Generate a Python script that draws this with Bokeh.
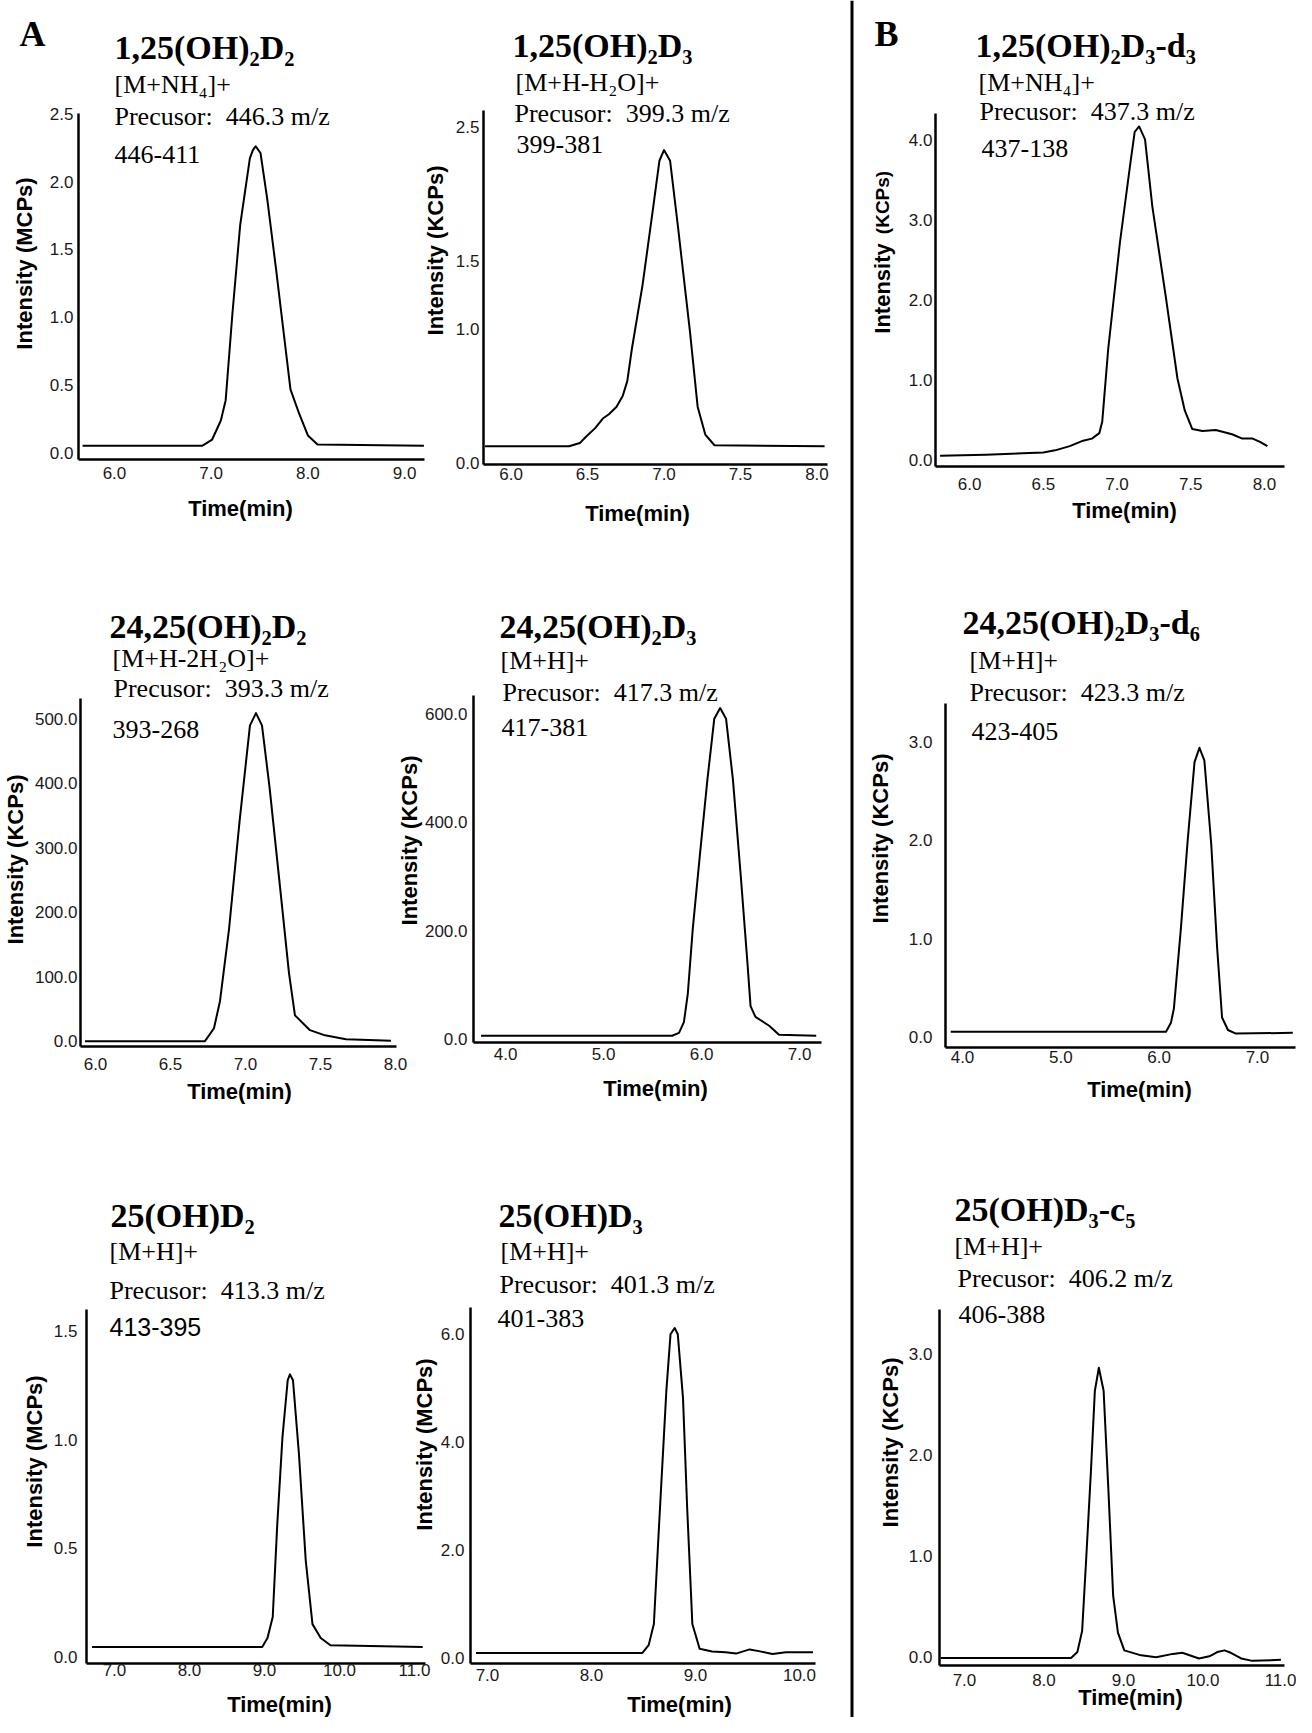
import math
from bokeh.plotting import figure
from bokeh.models import Range1d, FixedTicker, PrintfTickFormatter, Label, LinearAxis, Span
from bokeh.embed import file_html
from bokeh.resources import INLINE

# ---------------- data (time in min, intensity in axis units) ----------------
time_125D2 = [5.67, 6.91, 7.01, 7.10, 7.15, 7.22, 7.30, 7.40, 7.43, 7.46, 7.51, 7.58, 7.67, 7.82, 7.91, 8.00, 8.10, 9.20]
int_125D2 = [0.055, 0.055, 0.10, 0.24, 0.39, 1.03, 1.68, 2.17, 2.23, 2.26, 2.21, 1.87, 1.36, 0.47, 0.29, 0.13, 0.063, 0.055]
xt_125D2 = [6.0, 7.0, 8.0, 9.0]
yt_125D2 = [0.0, 0.5, 1.0, 1.5, 2.0, 2.5]

time_125D3 = [5.83, 6.38, 6.45, 6.49, 6.55, 6.60, 6.64, 6.69, 6.73, 6.76, 6.79, 6.86, 6.93, 6.97, 7.00, 7.04, 7.09, 7.17, 7.22, 7.27, 7.33, 8.05]
int_125D3 = [0.127, 0.127, 0.151, 0.198, 0.262, 0.333, 0.365, 0.421, 0.500, 0.611, 0.849, 1.325, 1.905, 2.246, 2.325, 2.246, 1.770, 0.976, 0.421, 0.214, 0.135, 0.127]
xt_125D3 = [6.0, 6.5, 7.0, 7.5, 8.0]
yt_125D3 = [0.0, 1.0, 1.5, 2.5]

time_125D3d3 = [5.80, 6.11, 6.50, 6.58, 6.68, 6.77, 6.83, 6.88, 6.90, 6.94, 7.02, 7.09, 7.12, 7.15, 7.19, 7.24, 7.33, 7.41, 7.46, 7.51, 7.58, 7.67, 7.78, 7.85, 7.92, 7.97, 8.02]
int_125D3d3 = [0.054, 0.067, 0.094, 0.121, 0.174, 0.242, 0.268, 0.336, 0.483, 1.383, 2.725, 3.705, 4.107, 4.174, 4.013, 3.168, 2.054, 1.020, 0.617, 0.389, 0.362, 0.376, 0.322, 0.268, 0.268, 0.228, 0.174]
xt_125D3d3 = [6.0, 6.5, 7.0, 7.5, 8.0]
yt_125D3d3 = [0.0, 1.0, 2.0, 3.0, 4.0]

time_2425D2 = [5.93, 6.73, 6.79, 6.83, 6.89, 6.96, 7.03, 7.07, 7.11, 7.16, 7.23, 7.29, 7.33, 7.43, 7.53, 7.67, 7.97]
int_2425D2 = [0, 0, 20, 62, 173, 340, 490, 509, 490, 395, 240, 106, 40, 17, 9, 3, 0.5]
xt_2425D2 = [6.0, 6.5, 7.0, 7.5, 8.0]
yt_2425D2 = [0.0, 100.0, 200.0, 300.0, 400.0, 500.0]

time_2425D3 = [3.75, 5.70, 5.77, 5.82, 5.86, 5.91, 5.98, 6.06, 6.13, 6.19, 6.25, 6.32, 6.40, 6.47, 6.50, 6.55, 6.69, 6.79, 7.17]
int_2425D3 = [6.6, 6.6, 11.8, 31.6, 84.3, 202.7, 334.1, 479, 590.7, 610.4, 590.7, 479, 301.4, 136.8, 61.2, 41.4, 25, 8.5, 6.6]
xt_2425D3 = [4.0, 5.0, 6.0, 7.0]
yt_2425D3 = [0.0, 200.0, 400.0, 600.0]

time_2425D3d6 = [3.88, 6.07, 6.12, 6.15, 6.22, 6.29, 6.36, 6.41, 6.46, 6.53, 6.59, 6.64, 6.70, 6.78, 7.36]
int_2425D3d6 = [0.051, 0.051, 0.142, 0.287, 1.088, 1.996, 2.796, 2.942, 2.814, 1.960, 0.905, 0.196, 0.069, 0.033, 0.040]
xt_2425D3d6 = [4.0, 5.0, 6.0, 7.0]
yt_2425D3d6 = [0.0, 1.0, 2.0, 3.0]

time_25D2 = [6.70, 8.97, 9.04, 9.11, 9.17, 9.24, 9.31, 9.34, 9.38, 9.46, 9.55, 9.64, 9.75, 9.88, 11.11]
int_25D2 = [0.047, 0.047, 0.088, 0.185, 0.607, 1.013, 1.273, 1.300, 1.273, 0.932, 0.445, 0.152, 0.088, 0.055, 0.047]
xt_25D2 = [7.0, 8.0, 9.0, 10.0, 11.0]
yt_25D2 = [0.0, 0.5, 1.0, 1.5]

time_25D3 = [6.89, 8.49, 8.55, 8.60, 8.65, 8.72, 8.76, 8.80, 8.83, 8.88, 8.92, 8.97, 9.04, 9.16, 9.29, 9.39, 9.52, 9.61, 9.74, 9.87, 10.13]
int_25D3 = [0.098, 0.098, 0.242, 0.634, 2.464, 4.947, 5.994, 6.111, 5.994, 4.817, 2.790, 0.634, 0.176, 0.124, 0.111, 0.085, 0.163, 0.131, 0.078, 0.111, 0.111]
xt_25D3 = [7.0, 8.0, 9.0, 10.0]
yt_25D3 = [0.0, 2.0, 4.0, 6.0]

time_25D3c5 = [6.70, 8.34, 8.42, 8.48, 8.53, 8.59, 8.64, 8.69, 8.75, 8.81, 8.87, 8.93, 9.01, 9.20, 9.41, 9.62, 9.74, 9.95, 10.08, 10.18, 10.27, 10.35, 10.48, 10.62, 10.98]
int_25D3c5 = [-0.01, -0.01, 0.049, 0.259, 0.958, 1.833, 2.636, 2.864, 2.636, 1.657, 0.608, 0.241, 0.066, 0.021, -0.003, 0.031, 0.042, -0.014, 0.007, 0.049, 0.066, 0.042, -0.014, -0.038, -0.028]
xt_25D3c5 = [7.0, 8.0, 9.0, 10.0, 11.0]
yt_25D3c5 = [0.0, 1.0, 2.0, 3.0]

SERIF = "Liberation Serif"
SANS = "Liberation Sans"

# page canvas: 1296 x 1717 placed at (8, 8); default ranges = page pixels
PX0, PX1, PY0, PY1 = 8, 1304, 8, 1725
p = figure(width=PX1 - PX0, height=PY1 - PY0,
           x_range=Range1d(PX0, PX1), y_range=Range1d(PY1, PY0),
           min_border=0, min_border_left=0, min_border_right=0,
           min_border_top=0, min_border_bottom=0,
           x_axis_location=None, y_axis_location=None,
           toolbar_location=None, output_backend="svg",
           background_fill_color="white", border_fill_color="white")
p.outline_line_color = None
p.xgrid.grid_line_color = None
p.ygrid.grid_line_color = None


def panel(k, frame, xr, yr, xticks, yticks, xstand, ystand, t, v):
    L, R, T, B = frame
    x0, x1 = xr
    y0, y1 = yr
    sx = (x1 - x0) / (R - L)
    sy = (y1 - y0) / (B - T)
    xn, yn = f"x{k}", f"y{k}"
    p.extra_x_ranges[xn] = Range1d(x0 + (PX0 - L) * sx, x0 + (PX1 - L) * sx)
    p.extra_y_ranges[yn] = Range1d(y0 - (PY1 - B) * sy, y0 + (B - PY0) * sy)
    xa = LinearAxis(x_range_name=xn, y_range_name=yn, fixed_location=y0, bounds=(x0, x1))
    ya = LinearAxis(x_range_name=xn, y_range_name=yn, fixed_location=x0, bounds=(y0, y1))
    for ax, ticks, st in ((xa, xticks, xstand), (ya, yticks, ystand)):
        ax.ticker = FixedTicker(ticks=ticks)
        ax.formatter = PrintfTickFormatter(format="%.1f")
        ax.axis_line_width = 2.5
        ax.axis_line_color = "black"
        ax.major_tick_line_color = None
        ax.minor_tick_line_color = None
        ax.major_tick_in = 0
        ax.major_tick_out = 0
        ax.minor_tick_in = 0
        ax.minor_tick_out = 0
        ax.major_label_standoff = st
        ax.major_label_text_font = SANS
        ax.major_label_text_font_size = "17px"
        ax.major_label_text_color = "#1a1a1a"
    p.add_layout(xa, "below")
    p.add_layout(ya, "left")
    p.line(t, v, x_range_name=xn, y_range_name=yn,
           line_color="black", line_width=2, line_join="round")


panel(1, (86, 432, 121, 467), (5.628, 9.206), (-0.047, 2.501), xt_125D2, yt_125D2, 7, 5, time_125D2, int_125D2)
panel(2, (491, 835, 118, 472), (5.820, 8.069), (-0.008, 2.619), xt_125D3, yt_125D3, 3, 4, time_125D3, int_125D3)
panel(3, (943, 1292, 121, 474), (5.769, 8.136), (-0.081, 4.336), xt_125D3d3, yt_125D3d3, 11, 3, time_125D3d3, int_125D3d3)
panel(4, (88, 404, 706, 1054), (5.900, 8.007), (-8.33, 531.7), xt_2425D2, yt_2425D2, 11, 3, time_2425D2, int_2425D2)
panel(5, (481, 829, 703, 1050), (3.673, 7.224), (-5.92, 633.5), xt_2425D3, yt_2425D3, 5, 6, time_2425D3, int_2425D3)
panel(6, (953, 1303, 711, 1055), (3.827, 7.387), (-0.109, 3.393), xt_2425D3d6, yt_2425D3d6, 3, 13, time_2425D3d6, int_2425D3d6)
panel(7, (94, 433, 1317, 1671), (6.627, 11.147), (-0.029, 1.598), xt_25D2, yt_25D2, 0, 9, time_25D2, int_25D2)
panel(8, (478, 823, 1315, 1671), (6.837, 10.154), (-0.098, 6.49), xt_25D3, yt_25D3, 5, 6, time_25D3, int_25D3)
panel(9, (947, 1292, 1317, 1673), (6.686, 11.025), (-0.084, 3.441), xt_25D3c5, yt_25D3c5, 8, 7, time_25D3c5, int_25D3c5)

# divider between parts A and B
p.add_layout(Span(location=859.5, dimension="height", line_color="black", line_width=3))


def put(px, py, text, font=SERIF, size=26, style="normal", align="left",
        baseline="alphabetic", angle=0.0):
    p.add_layout(Label(x=px, y=py, text=text, text_font=font,
                       text_font_size=f"{size}px", text_font_style=style,
                       text_align=align, text_baseline=baseline,
                       angle=angle, text_color="black"))


ROT = math.pi / 2
S2, S3, S4, S5, S6 = "\u2082", "\u2083", "\u2084", "\u2085", "\u2086"
GAP = "\u00a0 "


def ylab(px, py, text, size=22):
    put(px, py, text, SANS, size, "bold", "center", "middle", ROT)


def xlab(px, py):
    put(px, py, "Time(min)", SANS, 22, "bold", "center", "middle")


def title(px, py, text):
    put(px, py, text, SERIF, 34, "bold")


def prec(px, py, mz):
    put(px, py, "Precusor:" + GAP + mz + " m/z")


# Row 1
put(27, 41, "A", SERIF, 36, "bold")
title(122, 55, "1,25(OH)" + S2 + "D" + S2)
put(122, 92, "[M+NH" + S4 + "]+")
prec(122, 124, "446.3")
put(122, 162, "446-411")
ylab(32, 271, "Intensity (MCPs)")
xlab(248, 516)

title(520, 53, "1,25(OH)" + S2 + "D" + S3)
put(523, 90, "[M+H-H" + S2 + "O]+")
prec(522, 121, "399.3")
put(524, 152, "399-381")
ylab(443, 258, "Intensity (KCPs)")
xlab(645, 521)

put(882, 41, "B", SERIF, 36, "bold")
title(983, 53, "1,25(OH)" + S2 + "D" + S3 + "-d" + S3)
put(986, 90, "[M+NH" + S4 + "]+")
prec(987, 119, "437.3")
put(989, 156, "437-138")
ylab(890, 296, "Intensity")
ylab(890, 210, "(KCPs)", 19)
xlab(1132, 518)

# Row 2
title(117, 634, "24,25(OH)" + S2 + "D" + S2)
put(120, 666, "[M+H-2H" + S2 + "O]+")
prec(121, 696, "393.3")
put(120, 737, "393-268")
ylab(23, 867, "Intensity (KCPs)")
xlab(247, 1099)

title(507, 634, "24,25(OH)" + S2 + "D" + S3)
put(508, 668, "[M+H]+")
prec(510, 700, "417.3")
put(509, 735, "417-381")
ylab(417, 848, "Intensity (KCPs)")
xlab(663, 1096)

title(970, 630, "24,25(OH)" + S2 + "D" + S3 + "-d" + S6)
put(977, 668, "[M+H]+")
prec(977, 700, "423.3")
put(979, 739, "423-405")
ylab(888, 846, "Intensity (KCPs)")
xlab(1147, 1097)

# Row 3
title(118, 1223, "25(OH)D" + S2)
put(117, 1259, "[M+H]+")
prec(117, 1298, "413.3")
put(117, 1334, "413-395", SANS, 25)
ylab(42, 1469, "Intensity (MCPs)")
xlab(287, 1712)

title(506, 1223, "25(OH)D" + S3)
put(508, 1259, "[M+H]+")
prec(507, 1292, "401.3")
put(505, 1326, "401-383")
ylab(432, 1452, "Intensity (MCPs)")
xlab(687, 1712)

title(962, 1217, "25(OH)D" + S3 + "-c" + S5)
put(962, 1254, "[M+H]+")
prec(965, 1286, "406.2")
put(966, 1322, "406-388")
ylab(898, 1450, "Intensity (KCPs)")
xlab(1138, 1705)

open("out.html", "w").write(file_html(p, INLINE))
